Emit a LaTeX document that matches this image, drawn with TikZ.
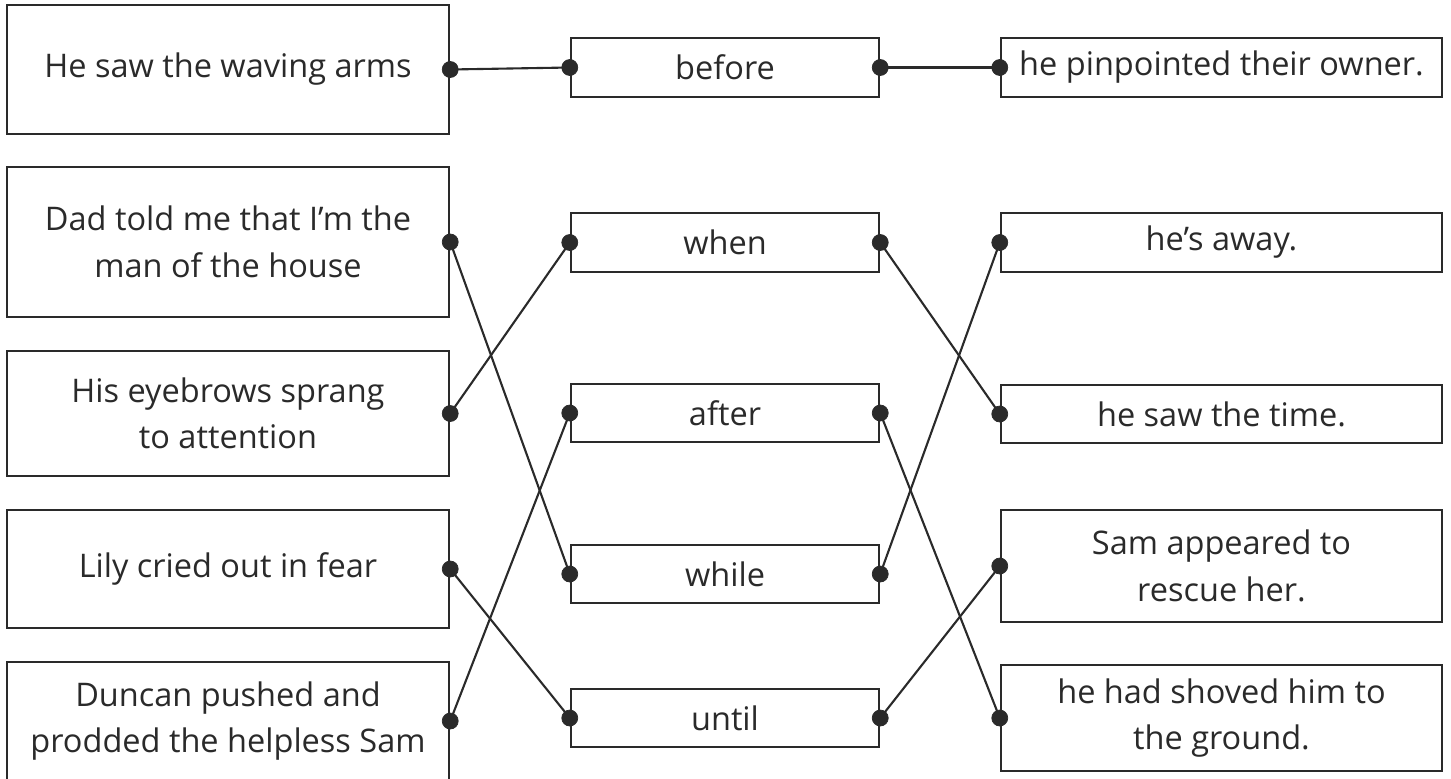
\documentclass[tikz,border=0pt]{standalone}
\usepackage{fontspec}
\setmainfont{Open Sans}
\usepackage{xcolor}
\usepackage{tikz}
\definecolor{inkgrey}{HTML}{2A2A2A}
\tikzset{
blackdotv1/.style={circle, draw=inkgrey,fill=inkgrey, inner sep=0pt, minimum size= 0.32cm},
phraseboxv1/.style={rectangle, draw=inkgrey,fill=none,line width=1.4pt, inner sep=0pt, minimum width= 8.84cm, align=center, text=inkgrey, font=\fontsize{18.5}{26.5}\selectfont},
wordboxv1/.style={rectangle, draw=inkgrey,fill=none,line width=1.4pt, inner sep=0pt, minimum width= 6.16cm, minimum height= 1.17cm, text=inkgrey, font=\fontsize{18.5}{26.5}\selectfont},
endboxv1/.style={rectangle, draw=inkgrey,fill=none,line width=1.4pt, inner sep=0pt, minimum width= 8.82cm, align=center, text=inkgrey, font=\fontsize{18.5}{26.5}\selectfont},
}

\begin{document}
\begin{tikzpicture}
    \useasboundingbox (0,0) rectangle (29.02,-15.56);
    % main clauses
    \node[phraseboxv1, minimum height=2.58cm] at (4.56,-1.39) (arms) {He saw the waving arms};
    \node[phraseboxv1, minimum height=3cm] at (4.56,-4.84) (dad) {Dad told me that I’m the\\man of the house};
    \node[phraseboxv1, minimum height=2.5cm] at (4.56,-8.27) (eyebrows) {His eyebrows sprang\\to attention};
    \node[phraseboxv1, minimum height=2.36cm] at (4.56,-11.38) (lily) {Lily cried out in fear};
    \node[phraseboxv1, minimum height=2.36cm] at (4.56,-14.42) (duncan) {Duncan pushed and\\prodded the helpless Sam};
    % conjunctions
    \node[wordboxv1] at (14.5,-1.35) (before) {before};
    \node[wordboxv1] at (14.5,-4.85) (when) {when};
    \node[wordboxv1] at (14.5,-8.26) (after) {after};
    \node[wordboxv1] at (14.5,-11.48) (while) {while};
    \node[wordboxv1] at (14.5,-14.36) (until) {until};
    % subordinate clauses
    \node[endboxv1, minimum height=1.18cm] at (24.43,-1.35) (owner) {he pinpointed their owner.};
    \node[endboxv1, minimum height=1.18cm] at (24.43,-4.85) (away) {he’s away.};
    \node[endboxv1, minimum height=1.16cm] at (24.43,-8.28) (time) {he saw the time.};
    \node[endboxv1, minimum height=2.24cm] at (24.43,-11.32) (rescue) {Sam appeared to\\rescue her.};
    \node[endboxv1, minimum height=2.12cm] at (24.43,-14.36) (ground) {he had shoved him to\\the ground.};

    \draw[line width=1.2pt, inkgrey] (arms.east)--(before.west);
    \draw[line width=1.2pt, inkgrey] (before.east)--(owner.west);
    \draw[line width=1.2pt, inkgrey] (dad.east)--(while.west);
    \draw[line width=1.2pt, inkgrey] (eyebrows.east)--(when.west);
    \draw[line width=1.2pt, inkgrey] (lily.east)--(until.west);
    \draw[line width=1.2pt, inkgrey] (duncan.east)--(after.west);
    \draw[line width=1.2pt, inkgrey] (when.east)--(time.west);
    \draw[line width=1.2pt, inkgrey] (after.east)--(ground.west);
    \draw[line width=1.2pt, inkgrey] (while.east)--(away.west);
    \draw[line width=1.2pt, inkgrey] (until.east)--(rescue.west);

    \foreach \n in {arms,dad,eyebrows,lily,duncan,before,when,after,while,until}
        \node[blackdotv1] at (\n.east) {};
    \foreach \n in {before,when,after,while,until,owner,away,time,rescue,ground}
        \node[blackdotv1] at (\n.west) {};
\end{tikzpicture}
\end{document}
